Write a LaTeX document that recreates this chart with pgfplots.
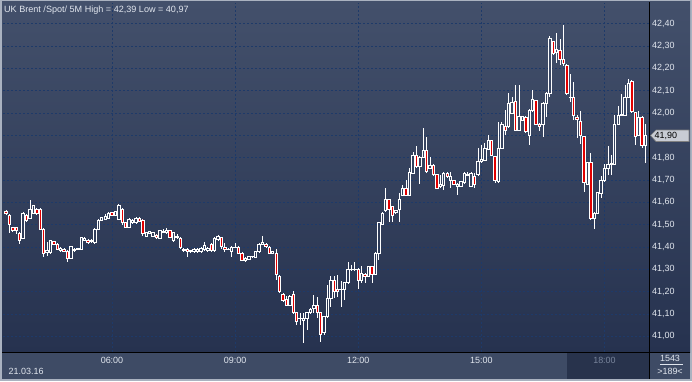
\documentclass[border=0pt]{standalone}
\usepackage{pgfplots}
\pgfplotsset{compat=1.18}
\usepackage{pgfplotstable}
\usepackage{fontspec}
\setmainfont{Liberation Sans}
\definecolor{bgtop}{RGB}{67,80,107}
\definecolor{bgbot}{RGB}{38,50,79}
\definecolor{stripcol}{RGB}{62,75,101}
\definecolor{stripdark}{RGB}{40,51,76}
\definecolor{framecol}{RGB}{170,178,192}
\definecolor{gridcol}{RGB}{30,58,105}
\definecolor{candred}{RGB}{225,0,0}
\definecolor{txtcol}{RGB}{225,230,238}
\definecolor{dimtxt}{RGB}{120,132,155}
\definecolor{markfill}{RGB}{200,204,212}
\pgfdeclarelayer{background}
\pgfsetlayers{background,main}

\pgfplotstableread{
i o h l c
-31 41.560 41.565 41.545 41.551
-30 41.543 41.547 41.461 41.502
-29 41.487 41.491 41.469 41.476
-28 41.487 41.491 41.460 41.476
-27 41.461 41.466 41.412 41.431
-26 41.439 41.556 41.435 41.551
-25 41.543 41.550 41.511 41.521
-24 41.529 41.611 41.525 41.569
-23 41.551 41.588 41.548 41.584
-22 41.569 41.575 41.545 41.551
-21 41.569 41.574 41.475 41.479
-20 41.479 41.483 41.357 41.372
-19 41.374 41.424 41.360 41.383
-18 41.374 41.432 41.370 41.428
-17 41.424 41.428 41.409 41.413
-16 41.412 41.416 41.386 41.390
-15 41.383 41.398 41.379 41.394
-14 41.391 41.395 41.377 41.381
-13 41.382 41.386 41.331 41.349
-12 41.349 41.405 41.345 41.401
-11 41.383 41.395 41.379 41.390
-10 41.389 41.396 41.385 41.392
-9 41.390 41.446 41.386 41.442
-8 41.431 41.443 41.427 41.439
-7 41.431 41.435 41.415 41.419
-6 41.424 41.435 41.420 41.431
-5 41.419 41.483 41.415 41.479
-4 41.479 41.525 41.475 41.521
-3 41.521 41.535 41.517 41.531
-2 41.524 41.547 41.520 41.538
-1 41.530 41.556 41.526 41.551
0 41.554 41.558 41.539 41.543
1 41.543 41.562 41.539 41.558
2 41.524 41.593 41.520 41.584
3 41.569 41.575 41.500 41.509
4 41.509 41.513 41.484 41.488
5 41.488 41.530 41.485 41.524
6 41.509 41.525 41.505 41.521
7 41.509 41.533 41.505 41.529
8 41.529 41.533 41.511 41.515
9 41.521 41.525 41.449 41.461
10 41.449 41.468 41.445 41.464
11 41.461 41.473 41.457 41.469
12 41.449 41.468 41.445 41.464
13 41.454 41.458 41.438 41.442
14 41.439 41.477 41.435 41.473
15 41.466 41.479 41.462 41.469
16 41.464 41.483 41.460 41.473
17 41.473 41.477 41.439 41.443
18 41.428 41.468 41.424 41.464
19 41.449 41.460 41.436 41.443
20 41.439 41.443 41.393 41.397
21 41.384 41.394 41.379 41.390
22 41.390 41.394 41.357 41.379
23 41.384 41.388 41.375 41.379
24 41.379 41.394 41.375 41.390
25 41.379 41.394 41.375 41.390
26 41.379 41.398 41.375 41.394
27 41.387 41.424 41.383 41.409
28 41.384 41.398 41.380 41.394
29 41.412 41.416 41.379 41.383
30 41.383 41.443 41.379 41.439
31 41.433 41.454 41.429 41.449
32 41.443 41.447 41.390 41.401
33 41.399 41.417 41.379 41.390
34 41.391 41.395 41.385 41.389
35 41.379 41.403 41.357 41.399
36 41.398 41.417 41.395 41.400
37 41.399 41.403 41.368 41.372
38 41.372 41.376 41.338 41.342
39 41.339 41.353 41.335 41.349
40 41.345 41.361 41.341 41.357
41 41.356 41.361 41.352 41.358
42 41.354 41.383 41.350 41.379
43 41.379 41.416 41.375 41.412
44 41.412 41.449 41.408 41.421
45 41.412 41.416 41.397 41.401
46 41.399 41.403 41.368 41.372
47 41.372 41.383 41.368 41.379
48 41.372 41.390 41.252 41.279
49 41.270 41.275 41.195 41.200
50 41.188 41.192 41.155 41.159
51 41.163 41.180 41.136 41.140
52 41.140 41.184 41.136 41.180
53 41.188 41.203 41.102 41.106
54 41.106 41.110 41.051 41.065
55 41.079 41.106 41.051 41.081
56 41.073 41.106 40.969 41.080
57 41.080 41.110 41.028 41.106
58 41.106 41.125 41.102 41.121
59 41.125 41.185 41.103 41.136
60 41.140 41.177 41.080 41.106
61 41.106 41.110 40.976 41.010
62 41.016 41.092 41.008 41.088
63 41.088 41.230 41.084 41.170
64 41.170 41.270 41.133 41.249
65 41.249 41.270 41.171 41.200
66 41.211 41.275 41.177 41.200
67 41.210 41.249 41.133 41.212
68 41.211 41.244 41.163 41.240
69 41.240 41.334 41.236 41.300
70 41.299 41.320 41.295 41.301
71 41.298 41.334 41.294 41.301
72 41.300 41.304 41.211 41.252
73 41.252 41.315 41.237 41.282
74 41.279 41.283 41.237 41.270
75 41.270 41.316 41.266 41.312
76 41.312 41.316 41.237 41.279
77 41.279 41.376 41.275 41.372
78 41.372 41.513 41.342 41.509
79 41.503 41.555 41.499 41.551
80 41.563 41.663 41.559 41.611
81 41.611 41.615 41.513 41.569
82 41.581 41.585 41.513 41.543
83 41.554 41.567 41.550 41.563
84 41.569 41.640 41.513 41.611
85 41.633 41.678 41.629 41.663
86 41.663 41.700 41.629 41.633
87 41.633 41.753 41.629 41.733
88 41.730 41.827 41.726 41.812
89 41.812 41.853 41.756 41.760
90 41.760 41.806 41.682 41.802
91 41.802 41.932 41.798 41.834
92 41.831 41.891 41.733 41.737
93 41.753 41.805 41.749 41.767
94 41.767 41.771 41.719 41.723
95 41.723 41.727 41.659 41.663
96 41.670 41.723 41.666 41.682
97 41.678 41.737 41.655 41.730
98 41.730 41.734 41.711 41.715
99 41.700 41.737 41.663 41.715
100 41.697 41.701 41.678 41.682
101 41.670 41.686 41.633 41.682
102 41.673 41.696 41.669 41.692
103 41.688 41.734 41.684 41.730
104 41.722 41.737 41.718 41.724
105 41.673 41.734 41.669 41.730
106 41.718 41.730 41.663 41.682
107 41.723 41.842 41.719 41.782
108 41.782 41.857 41.778 41.793
109 41.790 41.864 41.786 41.842
110 41.838 41.902 41.834 41.879
111 41.876 41.880 41.808 41.812
112 41.805 41.809 41.688 41.697
113 41.693 41.961 41.685 41.842
114 41.842 41.961 41.838 41.947
115 41.942 42.014 41.902 41.924
116 41.939 42.089 41.935 42.044
117 42.000 42.070 41.996 42.047
118 42.051 42.126 41.920 41.924
119 41.924 42.126 41.920 41.984
120 41.969 41.988 41.965 41.984
121 41.981 41.985 41.913 41.917
122 41.902 42.018 41.857 42.014
123 42.011 42.103 42.007 42.062
124 42.056 42.060 41.947 41.951
125 41.951 41.955 41.921 41.939
126 41.951 42.048 41.894 42.044
127 42.044 42.096 41.981 42.086
128 42.086 42.345 42.073 42.335
129 42.320 42.324 42.261 42.265
130 42.271 42.360 42.223 42.283
131 42.280 42.330 42.215 42.241
132 42.241 42.395 42.210 42.223
133 42.215 42.219 42.082 42.086
134 42.070 42.175 42.051 42.072
135 42.071 42.141 41.969 41.991
136 41.981 41.990 41.890 41.972
137 41.961 42.011 41.861 41.902
138 41.894 41.898 41.648 41.688
139 41.682 41.782 41.678 41.778
140 41.778 41.820 41.521 41.529
141 41.529 41.555 41.479 41.551
142 41.551 41.647 41.547 41.643
143 41.640 41.720 41.620 41.697
144 41.697 41.772 41.693 41.753
145 41.753 41.853 41.723 41.772
146 41.771 41.812 41.723 41.773
147 41.772 41.991 41.768 41.951
148 41.951 42.032 41.947 41.991
149 41.990 42.086 41.986 41.992
150 41.991 42.126 41.987 42.071
151 42.071 42.151 42.067 42.133
152 42.141 42.150 42.002 42.006
153 42.002 42.006 41.857 41.894
154 41.902 42.011 41.898 41.981
155 41.981 41.985 41.842 41.853
156 41.853 41.951 41.778 41.902
}\candles

\pgfplotsset{
  chartbase/.style={
    scale only axis,
    width=646bp, height=349bp,
    xmin=-31.87, xmax=157.02, ymin=40.9296, ymax=42.4932,
  }
}

\begin{document}
\begin{tikzpicture}[x=1bp,y=1bp,font=\fontsize{9}{10}\selectfont]
\begin{axis}[chartbase,
  axis line style={draw=none},
  major tick length=0pt,
  xtick={0,36,72,108,144},
  xticklabels={06:00,09:00,12:00,15:00,{\textcolor{dimtxt}{18:00}}},
  xticklabel style={text=txtcol, anchor=center, yshift=-8.7bp, inner sep=0pt},
  ytick={41.0,41.1,41.2,41.3,41.4,41.5,41.6,41.7,41.8,41.9,42.0,42.1,42.2,42.3,42.4},
  yticklabels={{41,00},{41,10},{41,20},{41,30},{41,40},{41,50},{41,60},{41,70},{41,80},{},{42,00},{42,10},{42,20},{42,30},{42,40}},
  yticklabel pos=right,
  ytick pos=right,
  yticklabel style={text=txtcol, anchor=west, xshift=3bp, inner sep=0pt},
  xmajorgrids, ymajorgrids,
  grid style={draw=gridcol, dash pattern=on 2bp off 2bp, line width=0.8bp},
]
\coordinate (SW) at (rel axis cs:0,0);
\addplot[draw=none, mark=none,
  error bars/.cd, y dir=plus, y explicit, error mark=none,
  error bar style={draw=white, line width=0.8bp, solid}]
  table[x=i, y expr={max(\thisrow{o},\thisrow{c})},
        y error plus expr={\thisrow{h}-max(\thisrow{o},\thisrow{c})}] \candles;
\addplot[draw=none, mark=none,
  error bars/.cd, y dir=minus, y explicit, error mark=none,
  error bar style={draw=white, line width=0.8bp, solid}]
  table[x=i, y expr={min(\thisrow{o},\thisrow{c})},
        y error minus expr={min(\thisrow{o},\thisrow{c})-\thisrow{l}}] \candles;
\end{axis}

\begin{axis}[chartbase, hide axis, ybar stacked, bar width=2.4bp]
\addplot[draw=none, fill=none] table[x=i, y expr={min(\thisrow{o},\thisrow{c})}] \candles;
\addplot[draw=white, fill=none, line width=0.9bp] table[x=i, y expr={max(\thisrow{c}-\thisrow{o},0)}] \candles;
\addplot[draw=white, fill=candred, line width=0.9bp] table[x=i, y expr={max(\thisrow{o}-\thisrow{c},0)}] \candles;
\end{axis}

\begin{pgfonlayer}{background}
\begin{scope}[shift={(SW)}]
\begin{scope}[shift={(-3,-29)}]
\fill[framecol] (0,0) rectangle (692,381);
\shade[top color=bgtop,bottom color=bgbot] (2,29) rectangle (690,379);
\fill[stripcol] (2,2) rectangle (690,29);
\fill[stripdark] (567,2) rectangle (649,29);
\end{scope}
\end{scope}
\end{pgfonlayer}

\begin{scope}[shift={(SW)}]
\begin{scope}[shift={(-3,-29)}]
\draw[black, line width=1bp] (2,29) -- (690,29);
\draw[black, line width=1bp] (649,2) -- (649,379);

\node[anchor=base west, inner sep=0pt, text=txtcol, font=\fontsize{9.1}{10}\selectfont] at (4,368.5) {UK Brent /Spot/ 5M High = 42,39 Low = 40,97};

\filldraw[fill=markfill, draw=gray, line width=0.6bp] (650.5,245.5) -- (656,251) -- (689,251) -- (689,239.5) -- (656,239.5) -- cycle;
\node[anchor=west, inner sep=0pt, text=black] at (654.5,245.3) {41,90};

\node[anchor=west, inner sep=0pt, text=txtcol] at (8.5,9.3) {21.03.16};
\node[inner sep=0pt, text=txtcol] at (670,23) {1543};
\draw[txtcol, line width=0.6bp] (660,17) -- (683,17);
\node[inner sep=0pt, text=txtcol] at (670,9.3) {>189<};
\end{scope}
\end{scope}
\end{tikzpicture}
\end{document}
